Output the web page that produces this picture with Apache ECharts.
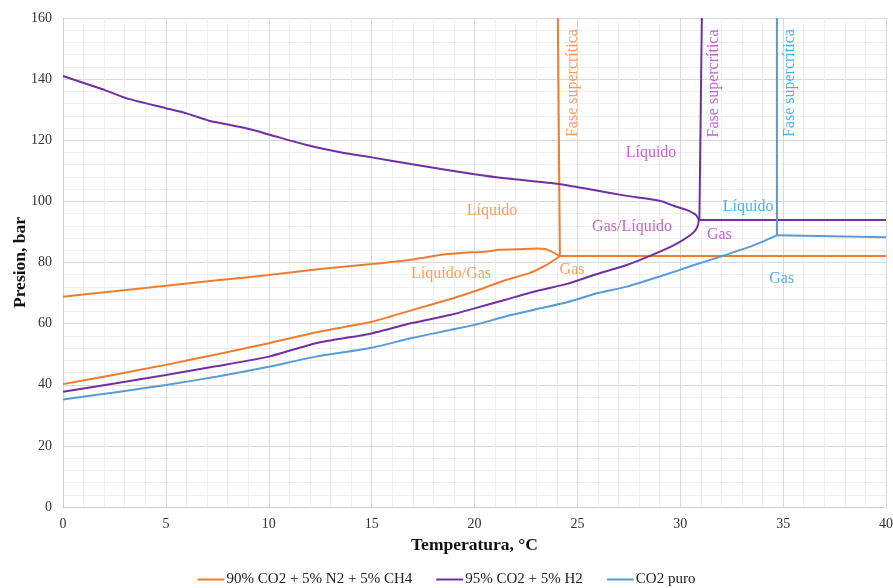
<!DOCTYPE html>
<html>
<head>
<meta charset="utf-8">
<script src="https://cdn.jsdelivr.net/npm/echarts@6/dist/echarts.min.js"></script>
<style>html,body{margin:0;padding:0;background:#fff}#c{width:893px;height:588px}</style>
</head>
<body>
<div id="c"></div>
<script>
// ---- data ----
const seriesNames = ['90% CO2 + 5% N2 + 5% CH4', '95% CO2 + 5% H2', 'CO2 puro'];

const orangeLiquid = [[0,68.8],[2.5,70.6],[5,72.4],[7.5,74.2],[10,75.9],[12.5,77.9],[15,79.5],[17,81.0],[18.5,82.6],[19.5,83.2],[20.5,83.5],[21.2,84.2],[22,84.3],[23,84.6],[23.5,84.3],[24.15,82.1]];
const orangeGas = [[0,40.2],[2.5,43.3],[5,46.5],[7.5,50.0],[10,53.6],[12.5,57.4],[15,60.6],[17,64.5],[19,68.4],[20,70.6],[21.5,74.2],[22.7,76.6],[23.5,79.2],[24,81.4],[24.15,82.1]];
const orangeCritical = [[24.15,82.1],[24.05,160]];
const orangeHoriz = [[24.15,82.1],[40,82.1]];

const purpleEnvelope = [[0,141.0],[2,136.5],[3.1,133.7],[5,130.5],[6,128.8],[7.1,126.4],[8.9,123.9],[10,121.9],[11.8,118.5],[13.6,115.9],[15,114.4],[16.9,112.2],[20,108.9],[21.6,107.5],[24.1,105.7],[25.8,103.7],[27.4,101.8],[29.0,100.2],[29.7,98.5],[30.3,97.2],[30.75,95.6],[30.9,93.9],[30.8,91.2],[30.5,89.0],[29.7,85.7],[28.5,82.1],[27.4,79.2],[25.8,75.9],[24.5,73.0],[23.2,71.0],[21.6,68.0],[20,65.0],[18.8,62.8],[16.9,60.1],[15,56.8],[12.3,53.6],[10,49.2],[7.5,46.1],[5,43.2],[2.5,40.4],[0,37.7]];
const purpleCritical = [[30.93,93.9],[31.05,160]];
const purpleHoriz = [[30.93,93.9],[40,93.9]];

const blueCurve = [[0,35.2],[2.5,37.5],[5,39.9],[7.5,42.7],[10,45.9],[12.3,49.2],[15,52.1],[16.9,55.2],[18.8,57.9],[20,59.6],[21.6,62.5],[23.2,65.0],[24.5,67.0],[26,70.0],[27.4,72.1],[29,75.4],[30.6,79.0],[31.8,81.6],[33.4,85.2],[34.7,88.9]];
const blueCritical = [[34.7,88.9],[34.7,160]];
const blueHoriz = [[34.7,88.9],[40,88.3]];

// annotations: [text, x, y, group(0 orange,1 purple,2 blue), rotated]
const annotations = [
  ['Líquido', 20.85, 96.9, 0, false],
  ['Líquido/Gas', 18.86, 76.2, 0, false],
  ['Gas', 24.74, 77.6, 0, false],
  ['Fase supercrítica', 24.79, 138.7, 0, true],
  ['Líquido', 28.58, 115.8, 1, false],
  ['Gas/Líquido', 27.66, 91.6, 1, false],
  ['Gas', 31.9, 89.0, 1, false],
  ['Fase supercrítica', 31.65, 138.6, 1, true],
  ['Líquido', 33.3, 98.3, 2, false],
  ['Gas', 34.93, 74.8, 2, false],
  ['Fase supercrítica', 35.33, 138.7, 2, true]
];

// ---- styles ----
const lineColors = ['#ED7D31', '#7030A0', '#5B9BD5'];
const textColors = ['#F5873A', '#B23FC2', '#1E9FE8'];
const FONT = '"Liberation Serif", "Times New Roman", serif';

function lineSeries(name, color, data, smooth) {
  return {
    type: 'line', name: name, data: data, showSymbol: false, symbol: 'none',
    lineStyle: { color: color, width: 2 }, itemStyle: { color: color },
    smooth: smooth || false, animation: false, z: 3
  };
}

const series = [
  lineSeries(seriesNames[0], lineColors[0], orangeLiquid, 0.2),
  lineSeries(seriesNames[0], lineColors[0], orangeGas, 0.2),
  lineSeries(seriesNames[0], lineColors[0], orangeCritical),
  lineSeries(seriesNames[0], lineColors[0], orangeHoriz),
  lineSeries(seriesNames[1], lineColors[1], purpleEnvelope, 0.2),
  lineSeries(seriesNames[1], lineColors[1], purpleCritical),
  lineSeries(seriesNames[1], lineColors[1], purpleHoriz),
  lineSeries(seriesNames[2], lineColors[2], blueCurve, 0.2),
  lineSeries(seriesNames[2], lineColors[2], blueCritical),
  lineSeries(seriesNames[2], lineColors[2], blueHoriz),
  {
    type: 'scatter', name: 'annotations', symbolSize: 0, animation: false, silent: true, z: 5,
    data: annotations.map(a => ({
      name: a[0], value: [a[1], a[2]],
      label: { show: true, position: 'inside', formatter: '{b}', rotate: a[4] ? 90 : 0,
        color: textColors[a[3]], fontFamily: FONT, fontSize: 16 }
    }))
  }
];

const chart = echarts.init(document.getElementById('c'), null, { renderer: 'canvas' });
chart.setOption({
  animation: false,
  backgroundColor: '#fff',
  grid: { left: 63, right: 7, top: 18, bottom: 81, containLabel: false, outerBoundsMode: 'none' },
  xAxis: {
    type: 'value', min: 0, max: 40, interval: 5,
    name: 'Temperatura, °C', nameLocation: 'middle', nameGap: 29, nameMoveOverlap: false,
    nameTextStyle: { fontFamily: FONT, fontSize: 17.5, fontWeight: 'bold', color: '#111' },
    axisLine: { show: true, lineStyle: { color: '#cfcfcf', width: 1 } },
    axisTick: { show: false },
    axisLabel: { fontFamily: FONT, fontSize: 14, color: '#333', margin: 10 },
    splitLine: { show: true, lineStyle: { color: '#d9d9d9', width: 1 } },
    minorTick: { show: false, splitNumber: 5 },
    minorSplitLine: { show: true, lineStyle: { color: '#efefef', width: 1 } }
  },
  yAxis: {
    type: 'value', min: 0, max: 160, interval: 20,
    name: 'Presion, bar', nameLocation: 'middle', nameGap: 34, nameRotate: 90, nameMoveOverlap: false,
    nameTextStyle: { fontFamily: FONT, fontSize: 17.5, fontWeight: 'bold', color: '#111' },
    axisLine: { show: true, lineStyle: { color: '#cfcfcf', width: 1 } },
    axisTick: { show: false },
    axisLabel: { fontFamily: FONT, fontSize: 14, color: '#333', margin: 11 },
    splitLine: { show: true, lineStyle: { color: '#d9d9d9', width: 1 } },
    minorTick: { show: false, splitNumber: 5 },
    minorSplitLine: { show: true, lineStyle: { color: '#efefef', width: 1 } }
  },
  legend: {
    data: seriesNames, top: 567, left: 'center', itemGap: 24,
    icon: 'rect', itemWidth: 27, itemHeight: 2,
    textStyle: { fontFamily: FONT, fontSize: 15, color: '#222', padding: [0, 0, 0, -3] }
  },
  series: series
});
</script>
</body>
</html>
